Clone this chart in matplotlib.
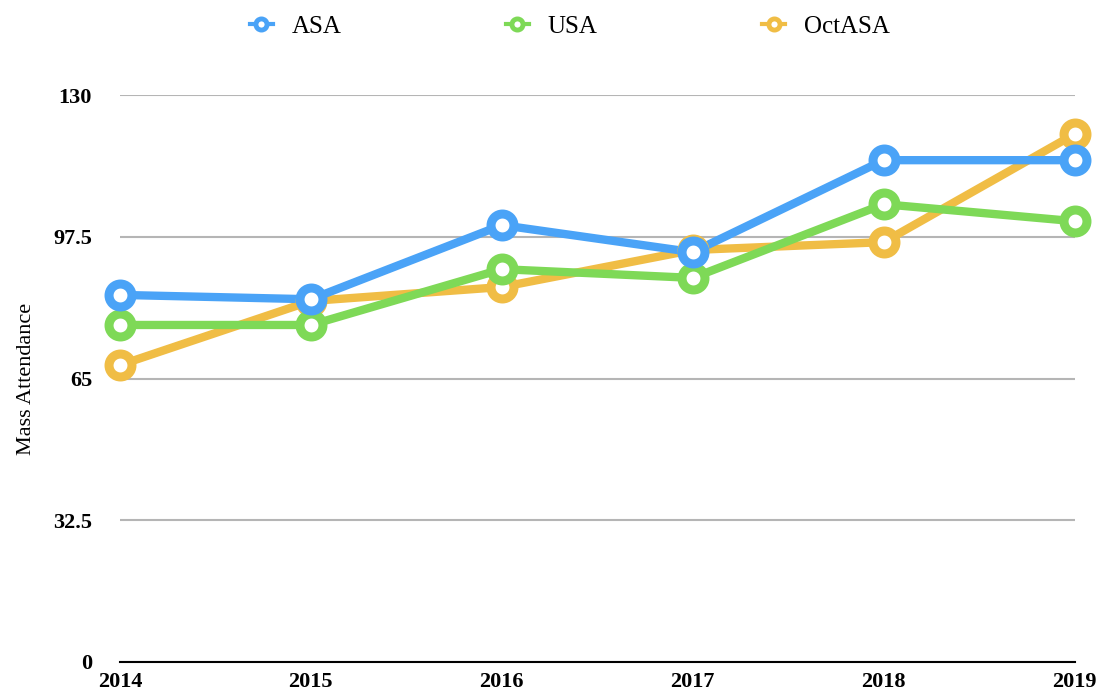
import matplotlib
matplotlib.use("Agg")
import matplotlib.pyplot as plt
from matplotlib.lines import Line2D

years = ["2014", "2015", "2016", "2017", "2018", "2019"]
asa = [84.2, 83.2, 100.2, 94.0, 115.1, 115.1]
usa = [77.3, 77.3, 90.1, 88.1, 105.0, 101.1]
octasa = [68.1, 82.8, 86.0, 94.5, 96.3, 121.1]
yticks = [0, 32.5, 65, 97.5, 130]
ytick_labels = ["0", "32.5", "65", "97.5", "130"]

series = [("ASA", asa, "#4aa3f7"), ("USA", usa, "#7ed957"),
          ("OctASA", octasa, "#f0bd45")]

plt.rcParams['font.family'] = ['Liberation Serif', 'DejaVu Serif']

fig = plt.figure(figsize=(11, 6.95), dpi=100)
ax = fig.add_axes([0.109, 0.0475, 0.868, 0.8155])

x = list(range(len(years)))
# lines first, then the ring markers on top (orange lowest, blue highest)
for i, (name, vals, col) in enumerate(reversed(series)):
    ax.plot(x, vals, color=col, linewidth=6, clip_on=False, zorder=3 + i)
for i, (name, vals, col) in enumerate(reversed(series)):
    ax.plot(x, vals, linestyle='none', marker='o', markersize=16.5,
            markerfacecolor='white', markeredgecolor=col, markeredgewidth=6.5,
            clip_on=False, zorder=10 + i)

ax.set_ylim(0, 130)
ax.set_xlim(0, len(years) - 1)
ax.set_yticks(yticks)
ax.set_yticklabels(ytick_labels)
ax.set_xticks(x)
ax.set_xticklabels(years)
ax.grid(axis='y', color='#b5b5b5', linewidth=1.5, zorder=0)
ax.tick_params(axis='y', length=0, pad=20, labelsize=16)
ax.tick_params(axis='x', length=0, pad=7, labelsize=16)
for lab in ax.get_xticklabels() + ax.get_yticklabels():
    lab.set_fontweight('bold')
for s in ['top', 'right', 'left']:
    ax.spines[s].set_visible(False)
ax.spines['bottom'].set_color('black')
ax.spines['bottom'].set_linewidth(1.5)
ax.set_ylabel("Mass Attendance", fontsize=16, labelpad=12)

handles = [Line2D([0], [0], color=col, linewidth=3, marker='o', markersize=8,
                  markerfacecolor='white', markeredgecolor=col,
                  markeredgewidth=3.5)
           for name, vals, col in series]
fig.legend(handles, [s[0] for s in series], loc='upper center',
           bbox_to_anchor=(0.518, 1.01), ncol=3, frameon=False, fontsize=18,
           handlelength=0.9, columnspacing=6.6, handletextpad=0.75)

fig.savefig("out.png", dpi=100)
